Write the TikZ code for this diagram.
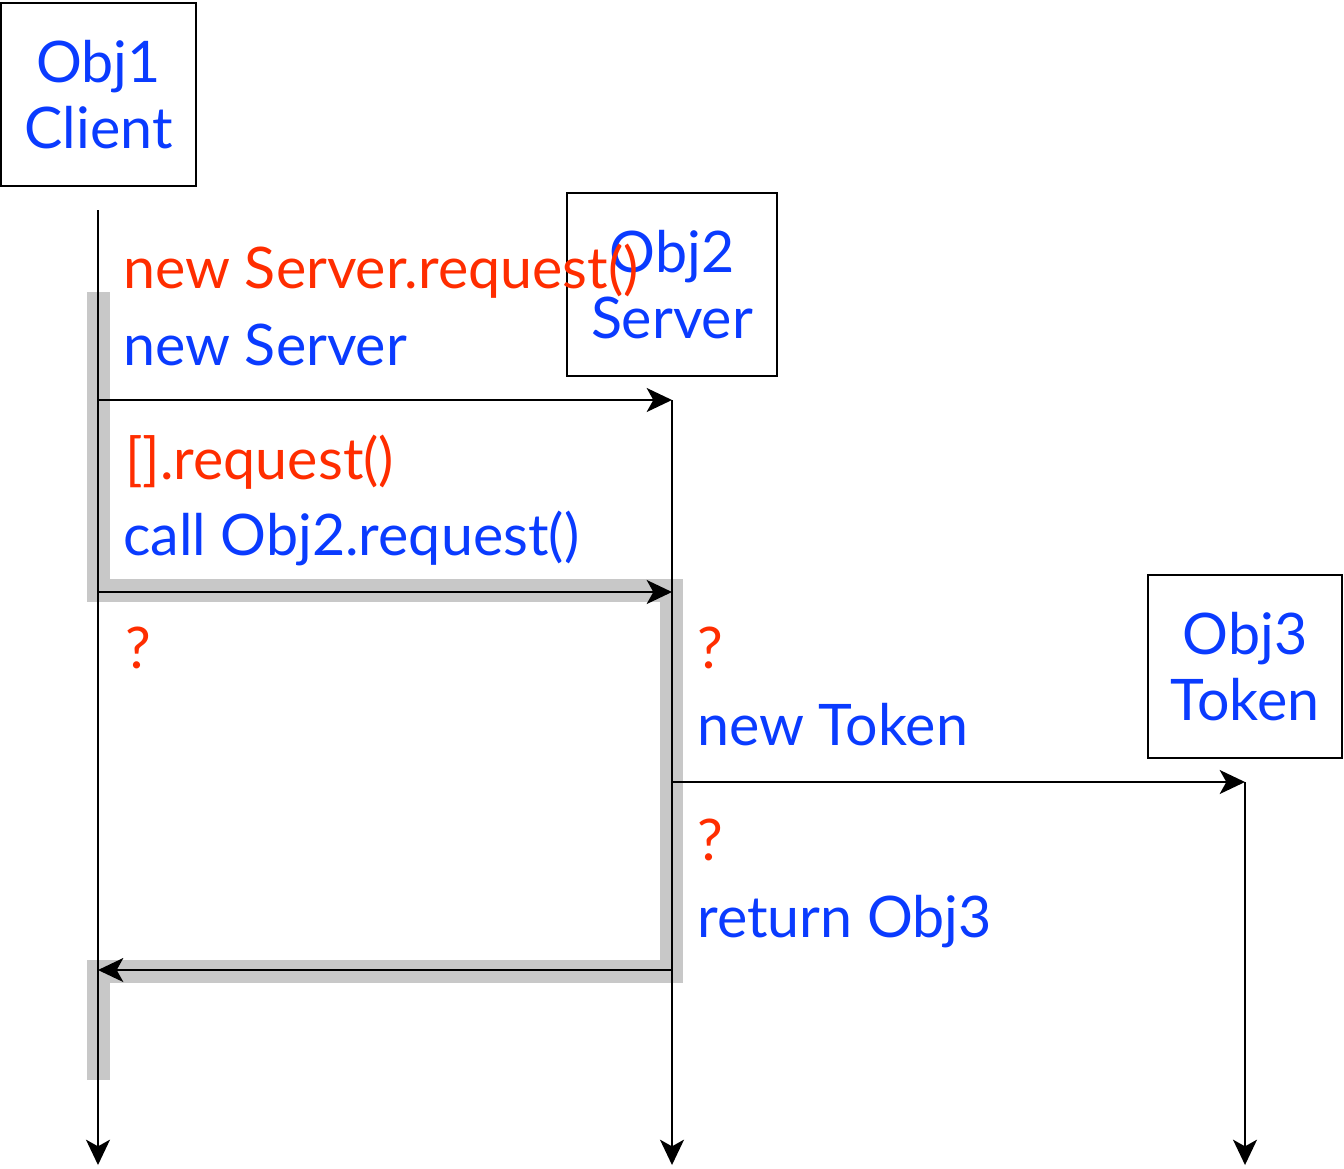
\documentclass[tikz,border=0pt]{standalone}
\usepackage{fontspec}
\setmainfont{Lato}
\usetikzlibrary{arrows.meta}
\definecolor{msgblue}{RGB}{10,59,255}
\definecolor{msgred}{RGB}{255,45,0}
\definecolor{activation}{RGB}{200,200,200}
\begin{document}
\begin{tikzpicture}[x=0.75pt,y=-0.75pt,
  >={Stealth[length=19pt,width=18pt,inset=5pt]},
  txt/.style={font=\fontsize{43}{50}\selectfont},
  objbox/.style={draw,line width=1.5pt,txt,text=msgblue,align=center,
    minimum height=137pt,inner sep=0pt},
  lifeline/.style={line width=1.5pt,->},
  msg/.style={line width=1.5pt,->},
  call/.style={txt,text=msgred,anchor=base west,inner sep=0pt},
  act/.style={txt,text=msgblue,anchor=base west,inner sep=0pt},
  bar/.style={draw=activation,line width=17.25pt,line join=miter,line cap=butt}
]
\useasboundingbox (0,0) rectangle (1344,1168);

% activation bars of the client and the server
\draw[bar] (98,292) -- (98,590) -- (671,590) -- (671,971) -- (98,971) -- (98,1080);

% object boxes
\node[objbox,minimum width=146pt] (client) at (98.5,94.5) {Obj1\\Client};
\node[objbox,minimum width=157.5pt] (server) at (672,284.5) {Obj2\\Server};
\node[objbox,minimum width=145.5pt] (token) at (1245,666.5) {Obj3\\Token};

% lifeline anchors
\coordinate (c-top) at (98,210);
\coordinate (c-new) at (98,400);
\coordinate (c-call) at (98,592);
\coordinate (c-ret) at (98,970);
\coordinate (c-end) at (98,1165);
\coordinate (s-top) at (672,400);
\coordinate (s-call) at (672,592);
\coordinate (s-new) at (672,782);
\coordinate (s-ret) at (672,970);
\coordinate (s-end) at (672,1165);
\coordinate (t-top) at (1245,782);
\coordinate (t-end) at (1245,1165);

% lifelines
\draw[lifeline] (c-top) -- (c-end);
\draw[lifeline] (s-top) -- (s-end);
\draw[lifeline] (t-top) -- (t-end);

% messages
\draw[msg] (c-new) -- (s-top);
\draw[msg] (c-call) -- (s-call);
\draw[msg] (s-new) -- (t-top);
\draw[msg] (s-ret) -- (c-ret);

% message labels
\node[call] (l1) at (123,288) {new Server.request()};
\node[act]  (l2) at (123,365) {new Server};
\node[call] (l3) at (125,479) {[].request()};
\node[act]  (l4) at (123,555) {call Obj2.request()};
\node[call] (l5) at (125,668) {?};
\node[call] (l6) at (697,668) {?};
\node[act]  (l7) at (697,745) {new Token};
\node[call] (l8) at (697,860) {?};
\node[act]  (l9) at (697,937) {return Obj3};
\end{tikzpicture}
\end{document}
